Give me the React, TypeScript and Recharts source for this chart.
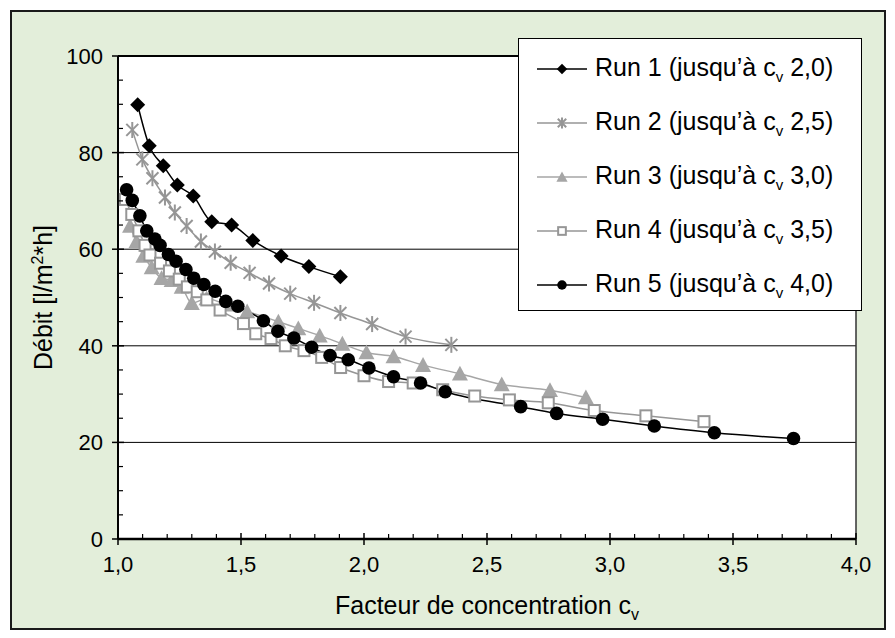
import React from 'react';
import {
  LineChart,
  Line,
  XAxis,
  YAxis,
  CartesianGrid,
  ReferenceLine,
  Legend,
} from 'recharts';

// Facteur de concentration (cv) / débit (l/m2*h)
const run1Cv = [1.08, 1.127, 1.184, 1.241, 1.306, 1.381, 1.462, 1.548, 1.663, 1.776, 1.904];
const run1Flux = [89.9, 81.4, 77.3, 73.3, 71.0, 65.7, 65.0, 61.8, 58.6, 56.4, 54.3];

const run2Cv = [1.058, 1.099, 1.14, 1.191, 1.231, 1.279, 1.337, 1.394, 1.458, 1.535, 1.614, 1.7, 1.797, 1.904, 2.033, 2.169, 2.355];
const run2Flux = [84.7, 78.6, 74.7, 70.7, 67.6, 64.8, 61.6, 59.5, 57.2, 55.1, 52.9, 50.8, 48.9, 46.8, 44.5, 41.9, 40.2];

const run3Cv = [1.049, 1.075, 1.103, 1.137, 1.177, 1.218, 1.259, 1.3, 1.36, 1.44, 1.525, 1.652, 1.733, 1.82, 1.912, 2.01, 2.12, 2.24, 2.39, 2.56, 2.756, 2.902];
const run3Flux = [64.8, 61.6, 58.6, 56.2, 54.0, 53.6, 52.2, 48.8, 49.8, 48.5, 47.1, 45.0, 43.6, 42.1, 40.4, 38.6, 37.8, 36.0, 34.2, 32.0, 30.8, 29.3];

const run4Cv = [1.03, 1.056, 1.085, 1.11, 1.13, 1.173, 1.209, 1.249, 1.282, 1.322, 1.361, 1.415, 1.51, 1.56, 1.622, 1.68, 1.756, 1.828, 1.905, 2.0, 2.1, 2.2, 2.32, 2.45, 2.591, 2.749, 2.936, 3.146, 3.382];
const run4Flux = [70.3, 67.2, 63.8, 60.8, 58.8, 57.1, 55.5, 53.8, 52.2, 51.2, 49.5, 47.4, 44.6, 42.5, 41.5, 40.0, 39.0, 37.6, 35.5, 33.8, 32.6, 32.3, 30.9, 29.6, 28.8, 28.2, 26.6, 25.5, 24.3];

const run5Cv = [1.035, 1.058, 1.089, 1.117, 1.15, 1.171, 1.205, 1.236, 1.276, 1.308, 1.349, 1.395, 1.438, 1.487, 1.591, 1.65, 1.715, 1.787, 1.862, 1.936, 2.02, 2.12, 2.23, 2.33, 2.637, 2.783, 2.97, 3.18, 3.424, 3.746];
const run5Flux = [72.3, 70.1, 66.9, 63.8, 62.1, 60.8, 58.9, 57.5, 55.8, 54.0, 52.7, 51.3, 49.2, 48.2, 45.2, 43.0, 41.6, 39.7, 38.0, 37.1, 35.4, 33.6, 32.3, 30.5, 27.4, 26.0, 24.8, 23.4, 22.0, 20.8];

const runLabels = ['Run 1', 'Run 2', 'Run 3', 'Run 4', 'Run 5'];
const runLimits = ['2,0', '2,5', '3,0', '3,5', '4,0'];

const xMajorTicks = [1, 1.5, 2, 2.5, 3, 3.5, 4];
const yMajorTicks = [0, 20, 40, 60, 80, 100];
const gridValues = [20, 40, 60, 80, 100];

const zip = (xs: number[], ys: number[]) => xs.map((x, i) => ({ x, y: ys[i] }));

const FONT = '"Liberation Sans", Arial, sans-serif';
const DARK_GRAY = '#969696';
const LIGHT_GRAY = '#a6a6a6';

// minor ticks, every 0.1 on x and every 5 on y
const xTicks = Array.from({ length: 31 }, (_, i) => Math.round((1 + i * 0.1) * 10) / 10);
const yTicks = Array.from({ length: 21 }, (_, i) => i * 5);

type Shape = 'diamond' | 'star' | 'triangle' | 'square' | 'circle';

const Marker = ({ shape, cx, cy, s = 1 }: { shape: Shape; cx: number; cy: number; s?: number }) => {
  if (shape === 'diamond') {
    const r = 7.5 * s;
    return <path d={`M${cx},${cy - r}L${cx + r},${cy}L${cx},${cy + r}L${cx - r},${cy}Z`} fill="#000" />;
  }
  if (shape === 'star') {
    const r = 8 * s;
    const d = r * 0.75;
    return (
      <g stroke={DARK_GRAY} strokeWidth={2}>
        <line x1={cx} y1={cy - r} x2={cx} y2={cy + r} />
        <line x1={cx - d} y1={cy - d} x2={cx + d} y2={cy + d} />
        <line x1={cx - d} y1={cy + d} x2={cx + d} y2={cy - d} />
      </g>
    );
  }
  if (shape === 'triangle') {
    const w = 8 * s;
    return <path d={`M${cx},${cy - w}L${cx + w},${cy + w * 0.85}L${cx - w},${cy + w * 0.85}Z`} fill={LIGHT_GRAY} />;
  }
  if (shape === 'square') {
    const h = 5.5 * s;
    return <rect x={cx - h} y={cy - h} width={h * 2} height={h * 2} fill="#fff" stroke={DARK_GRAY} strokeWidth={2} />;
  }
  return <circle cx={cx} cy={cy} r={6.8 * s} fill="#000" />;
};

const dotFor = (shape: Shape) => (props: any) => {
  const { cx, cy, index } = props;
  if (cx == null || cy == null) return <g key={`e-${index}`} />;
  return (
    <g key={`${shape}-${index}`}>
      <Marker shape={shape} cx={cx} cy={cy} />
    </g>
  );
};

const series = [
  { name: runLabels[0], data: zip(run1Cv, run1Flux), color: '#000', shape: 'diamond' as Shape },
  { name: runLabels[1], data: zip(run2Cv, run2Flux), color: DARK_GRAY, shape: 'star' as Shape },
  { name: runLabels[2], data: zip(run3Cv, run3Flux), color: LIGHT_GRAY, shape: 'triangle' as Shape },
  { name: runLabels[3], data: zip(run4Cv, run4Flux), color: DARK_GRAY, shape: 'square' as Shape },
  { name: runLabels[4], data: zip(run5Cv, run5Flux), color: '#000', shape: 'circle' as Shape },
];

const fmt = (v: number) => v.toFixed(1).replace('.', ',');

const XTick = ({ x, y, payload }: any) => {
  const v = payload.value;
  const major = xMajorTicks.some((m) => Math.abs(m - v) < 1e-6);
  return (
    <g>
      {major ? (
        <line x1={x} x2={x} y1={y - 6} y2={y + 6} stroke="#000" strokeWidth={1.5} />
      ) : (
        <line x1={x} x2={x} y1={y} y2={y - 5} stroke="#000" strokeWidth={1.2} />
      )}
      {major && (
        <text x={x} y={y + 17} dy="0.71em" textAnchor="middle" fontFamily={FONT} fontSize={22} fill="#000">
          {fmt(v)}
        </text>
      )}
    </g>
  );
};

const YTick = ({ x, y, payload }: any) => {
  const v = payload.value;
  const major = yMajorTicks.includes(v);
  return (
    <g>
      {major ? (
        <line x1={x - 6} x2={x + 6} y1={y} y2={y} stroke="#000" strokeWidth={1.5} />
      ) : (
        <line x1={x} x2={x + 5} y1={y} y2={y} stroke="#000" strokeWidth={1.2} />
      )}
      {major && (
        <text x={x - 15} y={y} dy="0.36em" textAnchor="end" fontFamily={FONT} fontSize={22} fill="#000">
          {v}
        </text>
      )}
    </g>
  );
};

const XTitle = ({ viewBox }: any) => {
  const cx = viewBox.x + viewBox.width / 2;
  const y = viewBox.y + 75;
  return (
    <text x={cx} y={y} textAnchor="middle" fontFamily={FONT} fontSize={25} fill="#000">
      Facteur de concentration c
      <tspan fontSize={16} dy={6}>v</tspan>
    </text>
  );
};

const YTitle = ({ viewBox }: any) => {
  const x = viewBox.x + 40;
  const cy = viewBox.y + viewBox.height / 2;
  return (
    <text x={x} y={cy} transform={`rotate(-90 ${x} ${cy})`} textAnchor="middle" fontFamily={FONT} fontSize={25} fill="#000">
      Débit  [l/m
      <tspan fontSize={16} dy={-9}>2</tspan>
      <tspan dy={9}>*h]</tspan>
    </text>
  );
};

const LegendBox = () => (
  <div
    style={{
      boxSizing: 'border-box',
      width: 344,
      height: 273,
      background: '#fff',
      border: '1.5px solid #000',
      paddingTop: 3,
      fontFamily: FONT,
    }}
  >
    {series.map((s, i) => (
      <div key={s.name} style={{ display: 'flex', alignItems: 'center', height: 54 }}>
        <svg width={76} height={30} style={{ flex: 'none' }}>
          <line x1={18} x2={68} y1={15} y2={15} stroke={s.color} strokeWidth={1.5} />
          <Marker shape={s.shape} cx={43} cy={15} s={0.7} />
        </svg>
        <span style={{ fontSize: 25, color: '#000', whiteSpace: 'nowrap' }}>
          {s.name} (jusqu’à c<sub style={{ fontSize: 15 }}>v</sub> {runLimits[i]})
        </span>
      </div>
    ))}
  </div>
);

export default function App() {
  return (
    <div style={{ padding: 2 }}>
      <div
        style={{
          width: 872,
          height: 616,
          border: '2px solid #1a1a1a',
          background: '#e3eeda',
          position: 'relative',
        }}
      >
        <LineChart width={872} height={616} margin={{ top: 44, right: 28, left: 0, bottom: 0 }}>
          <CartesianGrid horizontal={false} vertical={false} fill="#fff" />
          {gridValues.map((v) => (
            <ReferenceLine key={v} y={v} stroke="#000" strokeWidth={v === 100 ? 2 : 1} />
          ))}
          <ReferenceLine x={4} stroke="#333" strokeWidth={1.5} />
          <XAxis
            dataKey="x"
            type="number"
            domain={[1, 4]}
            ticks={xTicks}
            interval={0}
            height={89}
            tickSize={0}
            tickMargin={0}
            tickLine={false}
            axisLine={{ stroke: '#000', strokeWidth: 2.5 }}
            tick={<XTick />}
            label={{ content: <XTitle /> }}
            allowDataOverflow
          />
          <YAxis
            type="number"
            domain={[0, 100]}
            ticks={yTicks}
            interval={0}
            width={106}
            tickSize={0}
            tickMargin={0}
            tickLine={false}
            axisLine={{ stroke: '#000', strokeWidth: 2 }}
            tick={<YTick />}
            label={{ content: <YTitle /> }}
          />
          <Legend
            layout="vertical"
            align="center"
            verticalAlign="middle"
            wrapperStyle={{ left: 506, top: 26, width: 344, height: 273 }}
            content={<LegendBox />}
          />
          {series.map((s) => (
            <Line
              key={s.name}
              name={s.name}
              data={s.data}
              dataKey="y"
              type="monotone"
              stroke={s.color}
              strokeWidth={1.5}
              dot={dotFor(s.shape)}
              activeDot={false}
              isAnimationActive={false}
            />
          ))}
        </LineChart>
      </div>
    </div>
  );
}
